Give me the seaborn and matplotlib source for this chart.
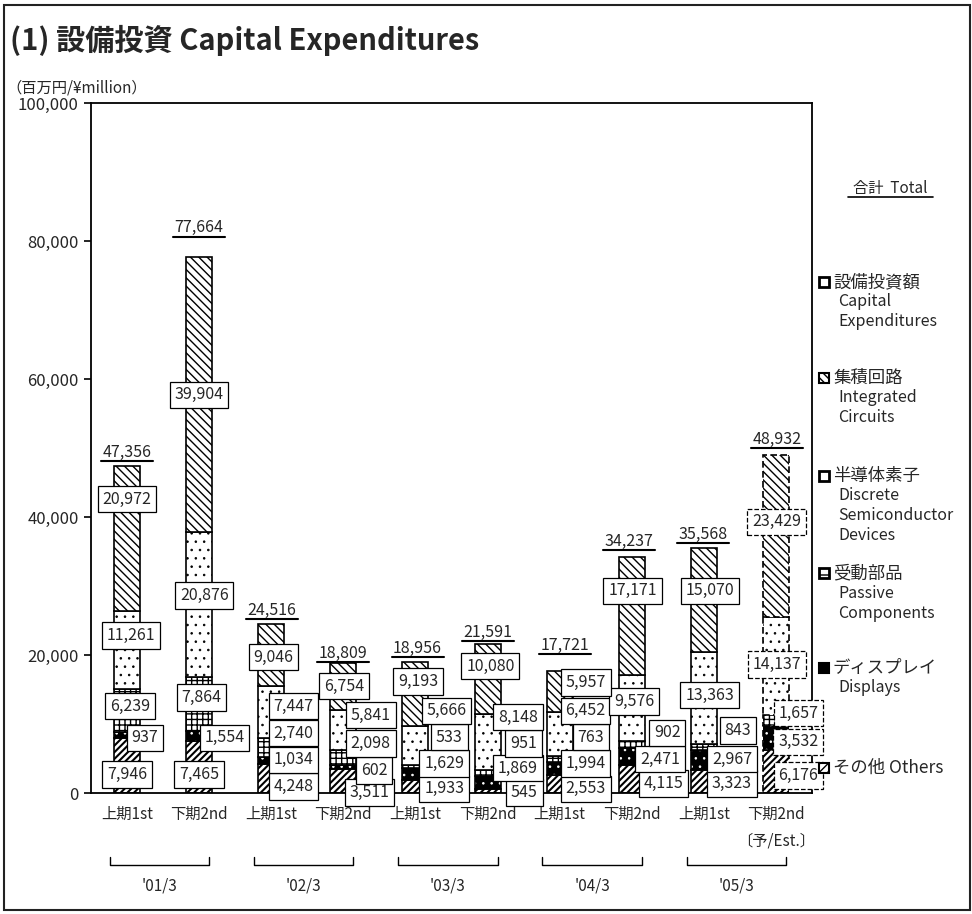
import numpy as np
import pandas as pd
import matplotlib as mpl
import matplotlib.pyplot as plt
import seaborn as sns
from matplotlib.patches import Rectangle
from matplotlib import transforms

# Data (百万円 / ¥million)
years = ["'01/3", "'02/3", "'03/3", "'04/3", "'05/3"]
halves = ['上期1st', '下期2nd']
periods = [f'{y} {h}' for y in years for h in halves]

others = [7946, 7465, 4248, 3511, 1933, 545, 2553, 4115, 3323, 6176]
displays = [937, 1554, 1034, 602, 1629, 1869, 1994, 2471, 2967, 3532]
passive = [6239, 7864, 2740, 2098, 533, 951, 763, 902, 843, 1657]
discrete = [11261, 20876, 7447, 5841, 5666, 8148, 6452, 9576, 13363, 14137]
ic = [20972, 39904, 9046, 6754, 9193, 10080, 5957, 17171, 15070, 23429]
totals = [47356, 77664, 24516, 18809, 18956, 21591, 17721, 34237, 35568, 48932]

df = pd.DataFrame({'period': periods, 'others': others, 'displays': displays,
                   'passive': passive, 'discrete': discrete, 'ic': ic})

sns.set_style('white')
plt.rcParams['font.family'] = ['Noto Sans CJK JP', 'DejaVu Sans']

W, H = 972, 914
fig = plt.figure(figsize=(W / 100, H / 100), dpi=100)
ax = fig.add_axes([91 / W, 121 / H, 721 / W, 690 / H])

# stacked segments, bottom to top: (style, hatch line width)
styles = {
    'others': (dict(color='white', hatch='/////', edgecolor='black', linewidth=1.2), 1.5),
    'displays': (dict(color='black', hatch='..', edgecolor='white', linewidth=0), 0.6),
    'passive': (dict(color='white', hatch='+++', edgecolor='black', linewidth=1.2), 1.0),
    'discrete': (dict(color='white', hatch='..', edgecolor='black', linewidth=1.2), 0.6),
    'ic': (dict(color='white', hatch='\\\\\\\\', edgecolor='black', linewidth=1.2), 1.0),
}
bottom = np.zeros(len(periods))
for name, (st, hlw) in styles.items():
    with mpl.rc_context({'hatch.linewidth': hlw}):
        sns.barplot(data=df, x='period', y=name, bottom=bottom, width=0.36,
                    saturation=1, errorbar=None, ax=ax, **st)
    bars = ax.containers[-1]
    for p in bars:
        if hasattr(p, 'set_hatch_linewidth'):
            p.set_hatch_linewidth(hlw)
    if name == 'displays':
        for i, p in enumerate(bars):
            ax.add_patch(Rectangle(p.get_xy(), p.get_width(), p.get_height(),
                                   fill=False, ec='black', lw=1.2,
                                   ls=(0, (4, 2)) if i == len(bars) - 1 else '-'))
    else:
        bars[-1].set_linestyle((0, (4, 2)))
    bottom += df[name].values

# label placement: (offset from bar centre, height in thousands)
lab_pos = {
    'others': [(0, 2.7), (0, 2.7), (0.31, 0.9), (0.36, 0.1), (0.40, 0.6), (0.51, 0.1), (0.36, 0.6), (0.44, 1.4), (0.39, 1.4), (0.31, 2.5)],
    'displays': [(0.25, 8.0), (0.35, 8.0), (0.31, 4.8), (0.43, 3.3), (0.40, 4.3), (0.42, 3.6), (0.36, 4.3), (0.39, 4.9), (0.39, 4.9), (0.31, 7.4)],
    'passive': [(0.04, 12.6), (0.03, 13.8), (0.31, 8.7), (0.38, 7.2), (0.47, 8.1), (0.5, 7.2), (0.43, 8.1), (0.49, 8.7), (0.47, 9.1), (0.31, 11.6)],
    'discrete': [(0.05, 22.8), (0.07, 28.6), (0.31, 12.6), (0.38, 11.3), (0.43, 11.9), (0.42, 11.0), (0.36, 11.9), (0.03, 13.3), (0.08, 14.2), (0.01, 18.6)],
    'ic': [(0, 42.6), (0, 57.7), (0.03, 19.7), (0.01, 15.5), (0.04, 16.2), (0.04, 18.4), (0.36, 16.0), (0.01, 29.3), (0.08, 29.3), (0.01, 39.3)],
}
lab_total = [(0, 49.3), (0, 81.9), (0.01, 26.5), (-0.01, 20.2), (0.03, 20.9), (0, 23.3), (0.08, 21.4), (-0.04, 36.4), (-0.01, 37.5), (0.01, 51.3)]

for name, pos in lab_pos.items():
    for i, (dx, yk) in enumerate(pos):
        ls = '--' if i == len(periods) - 1 else '-'
        ax.text(i + dx, yk * 1000, f'{df[name][i]:,}', ha='center', va='center',
                fontsize=11.5, zorder=5,
                bbox=dict(boxstyle='square,pad=0.3', fc='white', ec='black', lw=0.9, ls=ls))

for i, (dx, yk) in enumerate(lab_total):
    ax.text(i + dx, yk * 1000, f'{totals[i]:,}', ha='center', va='center', fontsize=11.5, zorder=5)
    ax.plot([i + dx - 0.36, i + dx + 0.36], [yk * 1000 - 1250] * 2, color='black', lw=1.5,
            clip_on=False, zorder=5)

# axes
ax.set_xlim(-0.5, len(periods) - 0.5)
ax.set_ylim(0, 100000)
ax.set_yticks(range(0, 100001, 20000))
ax.set_yticklabels([f'{v:,}' for v in range(0, 100001, 20000)], fontsize=12)
ax.set_xticks(range(len(periods)))
ax.set_xticklabels(halves * len(years), fontsize=11)
ax.set_xticks(np.arange(0.5, len(periods) - 1, 1), minor=True)
ax.tick_params(axis='x', which='major', length=0, pad=9)
ax.tick_params(axis='x', which='minor', direction='in', length=4, width=1.2, color='black')
ax.tick_params(axis='y', direction='out', length=5, width=1.2, color='black', pad=4, left=True)
ax.set_xlabel('')
ax.set_ylabel('')
for s in ax.spines.values():
    s.set_visible(True)
    s.set_color('black')
    s.set_linewidth(1.3)

# year brackets under the halves
blend = transforms.blended_transform_factory(ax.transData, fig.transFigure)
yb = 1 - 865 / H
yt = 1 - 857 / H
for k, yr in enumerate(years):
    c = 2 * k + 0.45
    ax.plot([c - 0.69, c - 0.69, c + 0.69, c + 0.69], [yt, yb, yb, yt], color='black',
            lw=1.0, transform=blend, clip_on=False)
    ax.text(c, 1 - 886 / H, yr, ha='center', va='center', fontsize=11, transform=blend)
ax.text(len(periods) - 1, 1 - 841 / H, '〔予/Est.〕', ha='center', va='center', fontsize=11,
        transform=blend)

# titles
fig.text(10 / W, 1 - 40 / H, '(1) 設備投資 Capital Expenditures', fontsize=21,
         fontweight='bold', va='center')
fig.text(6 / W, 1 - 88 / H, '（百万円/¥million）', fontsize=11, va='center')

# legend
fig.text(890 / W, 1 - 188 / H, '合計  Total', fontsize=11, ha='center', va='center')
fig.add_artist(plt.Line2D([848 / W, 933 / W], [1 - 197 / H] * 2, color='black', lw=1.2))

legend_items = [
    ('設備投資額', ['Capital', 'Expenditures'], 282, dict(fc='white', lw=2)),
    ('集積回路', ['Integrated', 'Circuits'], 378, dict(fc='white', hatch='\\\\\\\\', lw=1.5)),
    ('半導体素子', ['Discrete', 'Semiconductor', 'Devices'], 476, dict(fc='white', lw=2)),
    ('受動部品', ['Passive', 'Components'], 573, dict(fc='white', hatch='-', lw=2)),
    ('ディスプレイ', ['Displays'], 668, dict(fc='black', lw=1.5)),
    ('その他 Others', [], 768, dict(fc='white', hatch='////', lw=1.5)),
]
for jp, en, y, mk in legend_items:
    fig.add_artist(Rectangle((819 / W, 1 - (y + 5) / H), 10 / W, 10 / H, ec='black',
                             transform=fig.transFigure, **mk))
    fig.text(833 / W, 1 - y / H, jp, fontsize=12.5, va='center')
    for j, line in enumerate(en):
        fig.text(838 / W, 1 - (y + 20 * (j + 1)) / H, line, fontsize=11.5, va='center')

# outer frame
fig.add_artist(Rectangle((4 / W, 1 - 910 / H), 966 / W, 905 / H, fill=False, ec='#222222',
                         lw=1.5, transform=fig.transFigure))

fig.savefig('out.png', dpi=100)
